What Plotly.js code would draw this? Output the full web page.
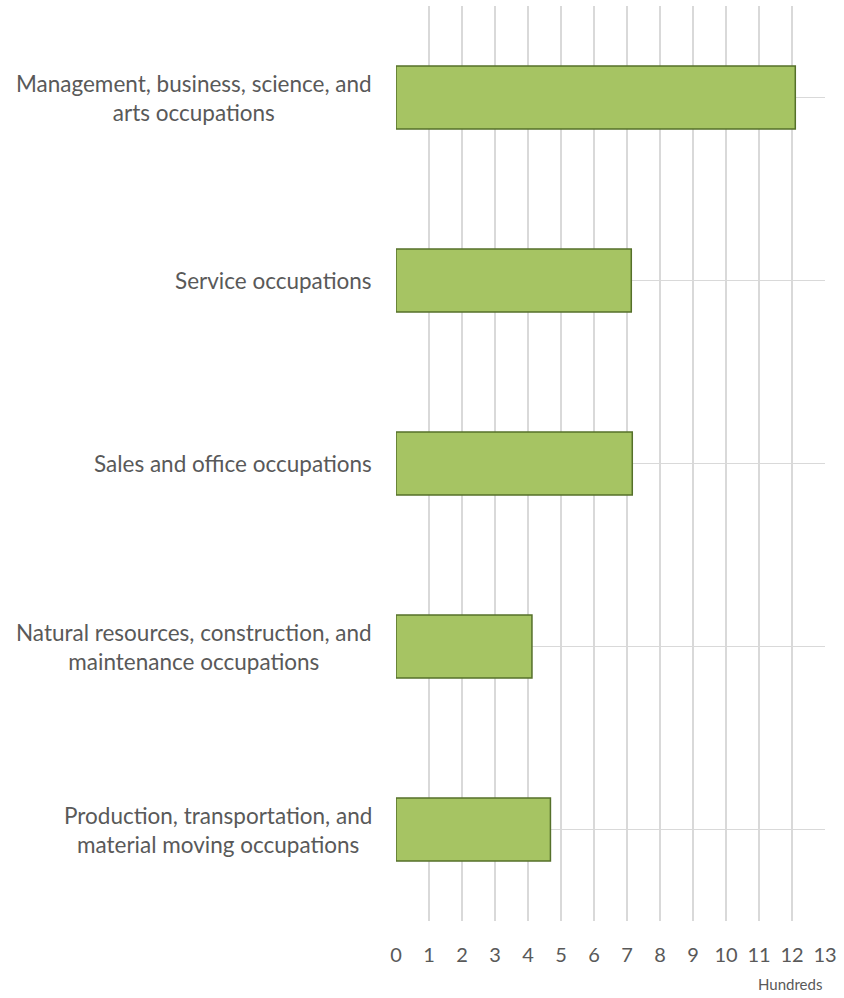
<!DOCTYPE html>
<html>
<head>
<meta charset="utf-8">
<script src="https://cdn.plot.ly/plotly-3.0.1.min.js"></script>
<style>
  html, body { margin: 0; padding: 0; background: #ffffff; }
  #plot { width: 844px; height: 998px; }
</style>
</head>
<body>
<div id="plot"></div>
<script>
// Occupation categories, top to bottom
let categories = [
  "Management, business, science, and<br>arts occupations",
  "Service occupations",
  "Sales and office occupations",
  "Natural resources, construction, and<br>maintenance occupations",
  "Production, transportation, and<br>material moving occupations"
];

// Values in hundreds
let values = [12.1, 7.13, 7.16, 4.12, 4.68];

// X axis ticks
let tickValues = [0, 1, 2, 3, 4, 5, 6, 7, 8, 9, 10, 11, 12, 13];

let textColor = "#595959";
let fontFamily = "Lato, 'Open Sans', sans-serif";

// Bar trace
let trace1 = {
  x: values,
  y: categories,
  type: "bar",
  orientation: "h",
  width: 0.345,
  marker: {
    color: "#a6c463",
    line: { color: "#55702a", width: 1.5 }
  },
  hoverinfo: "x+y"
};

let data = [trace1];

// Category labels as annotations so multi-line text is centred
let annotations = [];
for (let i = 0; i < categories.length; i++) {
  annotations.push({
    xref: "paper",
    yref: "y",
    x: 0,
    y: categories[i],
    xanchor: "right",
    yanchor: "middle",
    xshift: -22,
    align: "center",
    showarrow: false,
    text: categories[i],
    font: { family: fontFamily, size: 22.5, color: textColor }
  });
}

// Axis unit label
annotations.push({
  xref: "paper",
  yref: "paper",
  x: 1,
  y: 0,
  xanchor: "right",
  yanchor: "top",
  yshift: -52,
  xshift: -1,
  showarrow: false,
  text: "Hundreds",
  font: { family: fontFamily, size: 15, color: textColor }
});

let layout = {
  width: 844,
  height: 998,
  paper_bgcolor: "#ffffff",
  plot_bgcolor: "#ffffff",
  showlegend: false,
  margin: { l: 396, r: 19, t: 6, b: 77, pad: 0 },
  font: { family: fontFamily, color: textColor },
  xaxis: {
    range: [0, 13],
    tickvals: tickValues,
    ticktext: tickValues.map(String),
    showgrid: true,
    gridcolor: "#d9d9d9",
    gridwidth: 1.5,
    zeroline: false,
    showline: false,
    ticks: "",
    ticklabelstandoff: 20,
    tickfont: { family: fontFamily, size: 20, color: textColor },
    fixedrange: true
  },
  yaxis: {
    type: "category",
    autorange: "reversed",
    showgrid: true,
    gridcolor: "#d9d9d9",
    gridwidth: 1.5,
    zeroline: false,
    showline: false,
    showticklabels: false,
    ticks: "",
    fixedrange: true
  },
  annotations: annotations
};

Plotly.newPlot("plot", data, layout, { displayModeBar: false, staticPlot: true });
</script>
</body>
</html>
